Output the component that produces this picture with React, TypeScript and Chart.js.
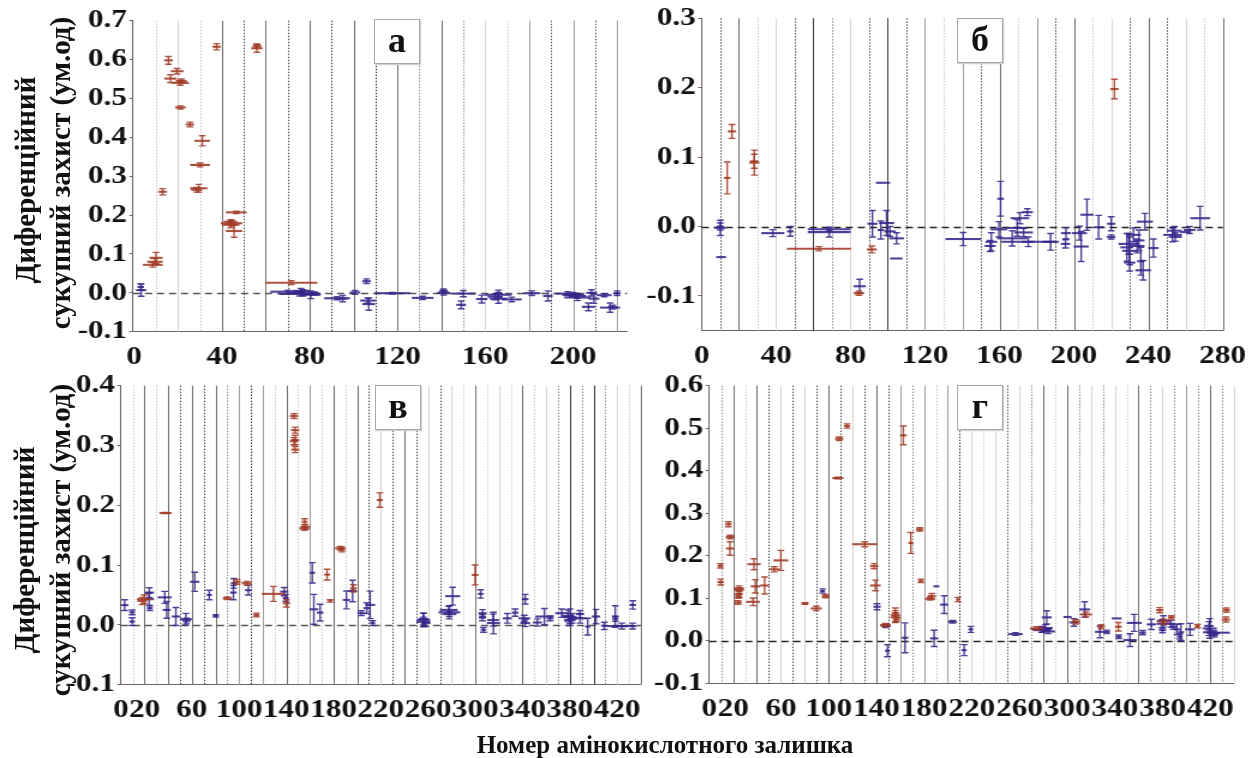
import React, { useEffect, useRef } from "react";
import Chart from "chart.js/auto";

// ---------------- data ----------------
// each mark: [x start, x end, value, error]
const aRed = [
  [4, 13, 0.072, 0.006], [6, 13, 0.08, 0.008], [7, 13, 0.09, 0.014], [11, 15, 0.26, 0.008],
  [13.7, 17.6, 0.598, 0.01], [13.7, 19.4, 0.551, 0.01], [16.7, 22.5, 0.57, 0.007], [17, 25, 0.54, 0.006],
  [19, 24, 0.545, 0.005], [18.7, 23.5, 0.477, 0.004], [23.5, 27.3, 0.433, 0.006], [27.5, 34.6, 0.391, 0.013],
  [25.5, 34.6, 0.329, 0.005], [25.5, 33.4, 0.269, 0.01], [26, 31, 0.265, 0.006], [35.7, 39.5, 0.633, 0.008],
  [53.3, 58.5, 0.629, 0.01], [54, 58, 0.635, 0.005], [41.8, 51.3, 0.207, 0.003], [39.5, 49.3, 0.179, 0.007],
  [40, 48, 0.175, 0.008], [41, 47, 0.183, 0.005], [41.8, 49.3, 0.159, 0.016], [59.7, 83.5, 0.026, 0.005],
];
const aBlue = [
  [0.9, 5.5, 0.007, 0.016], [1.5, 4.5, 0.015, 0.008], [62, 78, 0.003, 0.004], [66, 85, -0.003, 0.005],
  [70, 84, 0.0, 0.008], [72, 80, 0.005, 0.006], [76, 85, -0.005, 0.01], [80, 84, -0.002, 0.004],
  [86.6, 98.4, -0.014, 0.004], [93, 97, -0.015, 0.008], [98.4, 103, 0.001, 0.005], [104, 107.8, 0.03, 0.006],
  [104, 109.8, -0.029, 0.016], [103, 110, -0.02, 0.006], [109.8, 125.7, -0.001, 0.002], [126.5, 136.4, -0.013, 0.004],
  [138, 144, 0.0, 0.006], [139, 143, 0.004, 0.006], [144.7, 155.3, -0.002, 0.008], [146.8, 151.3, -0.031, 0.01],
  [155.8, 161, -0.016, 0.01], [160, 172, -0.005, 0.006], [161, 168, -0.01, 0.008], [162, 170, -0.015, 0.012],
  [164, 168, -0.003, 0.01], [167.5, 176.6, -0.017, 0.006], [177.4, 185, -0.001, 0.006], [186.4, 190.7, -0.008, 0.013],
  [192, 203, -0.002, 0.005], [195, 205, -0.005, 0.006], [196, 208, -0.012, 0.008], [198, 206, -0.008, 0.006],
  [204, 210, -0.036, 0.01], [207, 212, -0.015, 0.012], [206, 210.8, 0.0, 0.008], [210.8, 217.6, -0.006, 0.004],
  [212.3, 221.4, -0.038, 0.012], [216, 220, -0.037, 0.005], [218.4, 221.7, -0.001, 0.006],
];
const bRed = [
  [11.9, 15.5, 0.07, 0.023], [14, 18.5, 0.137, 0.01], [25.6, 31, 0.092, 0.018], [26, 30.5, 0.094, 0.01],
  [45.8, 80.2, -0.032, 0.003], [81.6, 87.3, -0.096, 0.003], [88.7, 94.1, -0.033, 0.005], [219.6, 224, 0.198, 0.014],
];
const bBlue = [
  [7, 13, -0.002, 0.011], [8, 12, 0.0, 0.005], [7.8, 13.1, -0.044, 0], [32, 44.4, -0.0095, 0.005],
  [45.8, 49.4, -0.007, 0.007], [57, 80, -0.004, 0.002], [57, 80, -0.008, 0.007], [81.6, 88.2, -0.086, 0.01],
  [89, 94.5, 0.004, 0.019], [94.5, 98, -0.005, 0.013], [93.6, 101.2, 0.063, 0], [95.3, 103.4, 0.005, 0.018],
  [98, 104.3, -0.007, 0.007], [100.7, 108.7, -0.017, 0.008], [101.2, 107.9, -0.046, 0], [131, 150, -0.018, 0.0095],
  [152.5, 158.8, -0.022, 0.013], [152, 158, -0.028, 0.008], [155.2, 164.2, -0.004, 0.011], [158.8, 162.4, 0.04, 0.025],
  [158.8, 174.9, -0.017, 0.011], [161, 190, -0.022, 0], [172, 179, -0.022, 0.007], [183, 192, -0.022, 0.012],
  [164.2, 174.9, -0.002, 0.012], [166, 176, 0.012, 0.008], [172, 178, 0.0207, 0.005], [168, 178, -0.0085, 0.006],
  [193.1, 198.5, -0.0095, 0.008], [193, 198, -0.025, 0.006], [203.5, 210.6, 0.017, 0.0225], [199.9, 208, -0.0288, 0.0216],
  [199, 207, -0.0095, 0.01], [210.6, 216, -0.001, 0.017], [217.8, 222.3, 0.004, 0.01], [217.8, 222.3, -0.015, 0.003],
  [224, 235, -0.025, 0.015], [225, 232, -0.03, 0.02], [226, 234, -0.035, 0.02], [227, 233, -0.052, 0.012],
  [228, 236, -0.012, 0.01], [230, 238, -0.028, 0.01], [232, 238, -0.02, 0.015], [234, 238, -0.05, 0.02],
  [233, 241.4, -0.063, 0.014], [233.9, 242.5, 0.007, 0.012], [240, 245.5, -0.031, 0.013], [248, 258, -0.012, 0.01],
  [250, 258, -0.006, 0.006], [251, 258, -0.015, 0.006], [259, 265.3, -0.005, 0.005], [262.5, 273.2, 0.012, 0.017],
  [257, 263, -0.008, 0],
];
const vRed = [
  [13.4, 26.1, 0.043, 0.007], [14, 22, 0.04, 0.006], [32.5, 43, 0.187, 0.001], [86.2, 93.8, 0.0445, 0.002],
  [95.2, 101.4, 0.072, 0.004], [102.3, 110.8, 0.0696, 0.003], [112, 117.2, 0.0167, 0.003], [119.2, 139, 0.0518, 0.0125],
  [137, 143.2, 0.036, 0.006], [143, 150, 0.349, 0.004], [144, 151, 0.3255, 0.005], [144, 151, 0.309, 0.008],
  [143, 150, 0.307, 0.006], [144, 151, 0.293, 0.005], [151, 159.5, 0.161, 0.003], [153, 158, 0.1725, 0.005],
  [152, 160, 0.164, 0.004], [172, 177, 0.084, 0.009], [175.6, 178.5, 0.04, 0.002], [181.3, 189.8, 0.128, 0.003],
  [184, 190, 0.126, 0.004], [194, 199.7, 0.061, 0.006], [216.6, 221.7, 0.2087, 0.012], [297, 302.6, 0.0835, 0.0167],
];
const vBlue = [
  [0, 6.3, 0.033, 0.009], [7.1, 11.9, 0.0055, 0.0065], [7, 12, 0.021, 0.004], [19.6, 28, 0.043, 0.01],
  [20, 28, 0.054, 0.008], [22, 27, 0.028, 0.004], [31.2, 43, 0.046, 0.01], [35.4, 42.2, 0.025, 0.014],
  [43, 50, 0.014, 0.015], [50, 60, 0.0095, 0.0097], [52, 59, 0.007, 0.004], [58.5, 66.4, 0.072, 0.016],
  [72.6, 76.9, 0.05, 0.008], [78.2, 82.5, 0.015, 0.002], [92.4, 98, 0.054, 0.012], [93, 98, 0.0695, 0.008],
  [105, 110.8, 0.058, 0.008], [134.7, 141.7, 0.0556, 0.007], [137, 142, 0.045, 0.006], [159.5, 164.4, 0.087, 0.017],
  [159.5, 167.1, 0.026, 0.025], [165.8, 171.4, 0.0205, 0.014], [187.8, 194, 0.0417, 0.015], [192.5, 199.7, 0.0567, 0.018],
  [200.2, 206.7, 0.0195, 0.004], [205.3, 210.9, 0.028, 0.009], [206.7, 215.2, 0.0334, 0.023], [210.9, 215.2, 0.003, 0.004],
  [250.5, 261.7, 0.0083, 0.011], [250, 262, 0.005, 0.008], [252, 260, 0.01, 0.01], [254, 262, 0.003, 0.006],
  [268.8, 287.1, 0.021, 0.011], [270, 285, 0.025, 0.006], [272, 284, 0.018, 0.004], [274.4, 287.1, 0.048, 0.015],
  [302.1, 306.9, 0.0518, 0.007], [302.6, 309.7, 0.0195, 0.006], [303, 309, 0.012, 0.005], [304.6, 309.1, -0.0083, 0.004],
  [309.7, 321, 0.003, 0.018], [310, 320, 0.008, 0.01], [323.3, 330.9, 0.011, 0.008], [330.9, 336.5, 0.0205, 0.006],
  [336.5, 346.4, 0.011, 0.005], [339.3, 345, 0.043, 0.008], [338, 346.4, 0.003, 0.006], [348.7, 356.4, 0.004, 0.006],
  [350.7, 366.2, 0.014, 0.0135], [360.5, 366.2, 0.011, 0.004], [367.6, 378.8, 0.0195, 0.007], [374.6, 385.9, 0.0128, 0.014],
  [373, 384, 0.015, 0.01], [375, 385, 0.008, 0.006], [378, 386, 0.011, 0.008], [383, 394.4, 0.011, 0.008],
  [385, 392, 0.018, 0.006], [393, 397.2, -0.0028, 0.014], [398.6, 405.7, 0.014, 0.012], [407.1, 411.3, -0.0017, 0.006],
  [411.3, 429.6, -0.002, 0], [420, 428, -0.002, 0.005], [415.6, 421.2, 0.014, 0.018], [416, 421, 0.01, 0.004],
  [429.6, 436.7, -0.002, 0.005], [430.5, 436.1, 0.0334, 0.007],
];
const gRed = [
  [7, 11.7, 0.176, 0.005], [6.7, 12.3, 0.138, 0.007], [13.2, 18.8, 0.274, 0.006], [13.8, 21, 0.244, 0.004],
  [14, 20.7, 0.217, 0.016], [20.7, 29.1, 0.123, 0.006], [21, 29, 0.12, 0.005], [22, 28, 0.11, 0.008],
  [21.6, 27.2, 0.105, 0.005], [21, 27.2, 0.09, 0.004], [30.8, 42.5, 0.0916, 0.009], [31.9, 43.1, 0.18, 0.013],
  [34.7, 42.5, 0.128, 0.0157], [42.5, 50.3, 0.13, 0.02], [50.3, 58.7, 0.168, 0.006], [53.7, 66.3, 0.189, 0.0235],
  [77.5, 83, 0.0877, 0.002], [85, 94.3, 0.076, 0.005], [94.3, 100.6, 0.105, 0.004], [103.1, 112.4, 0.3826, 0.002],
  [105.4, 112.4, 0.475, 0.004], [113, 118, 0.505, 0.005], [119.7, 140.9, 0.227, 0.006], [134.8, 141.7, 0.1755, 0.006],
  [134.8, 143.7, 0.13, 0.0125], [143.1, 152.1, 0.0368, 0.004], [152, 160, 0.055, 0.01], [153, 159, 0.065, 0.006],
  [154, 160, 0.05, 0.005], [152.1, 159.9, 0.06, 0.017], [159.9, 165.5, 0.483, 0.022], [166.9, 171.1, 0.23, 0.0246],
  [173.3, 179.5, 0.262, 0.004], [175.3, 179.5, 0.141, 0.004], [180.9, 189.3, 0.0986, 0.003], [183, 190, 0.105, 0.006],
  [206.9, 210.2, 0.097, 0.005], [268.9, 280.1, 0.029, 0.004], [303.9, 310.9, 0.0446, 0.005], [310.9, 320.7, 0.062, 0.006],
  [325.4, 331.8, 0.033, 0.005], [340.2, 345.8, 0.033, 0.01], [374.6, 380.7, 0.072, 0.006], [376, 386, 0.045, 0.006],
  [384.6, 390.2, 0.055, 0.004], [407.3, 411.5, 0.0345, 0.004], [430.5, 436.6, 0.072, 0.005], [429.7, 436.6, 0.05, 0.006],
];
const gBlue = [
  [92.8, 97, 0.117, 0.005], [137.5, 143.7, 0.08, 0.007], [144, 152, 0.035, 0.004], [147.3, 151.5, -0.0235, 0.014],
  [161.3, 166.9, 0.007, 0.035], [185.1, 192, 0.0056, 0.019], [187.9, 192.9, 0.128, 0], [193.5, 200.4, 0.085, 0.021],
  [200.4, 207.5, 0.0446, 0.003], [211.6, 215.8, -0.022, 0.013], [217.2, 221.4, 0.0268, 0.007], [250.7, 262.8, 0.0157, 0.003],
  [270.4, 287.1, 0.0268, 0.007], [272, 286, 0.025, 0.005], [276, 288, 0.03, 0.008], [278, 290, 0.022, 0.005],
  [278.7, 287.1, 0.055, 0.0157], [296.9, 303.9, 0.056, 0], [301.9, 309.4, 0.043, 0.009], [310.3, 319.2, 0.0737, 0.018],
  [323.4, 331.8, 0.021, 0.014], [330.4, 336, 0.021, 0.004], [337.4, 345.8, 0.0526, 0], [340.8, 345.8, 0.0094, 0.004],
  [347.2, 358.4, 0.0016, 0.015], [350, 362.6, 0.042, 0.02], [360.6, 366.2, 0.019, 0.005], [366.8, 374.6, 0.0385, 0.012],
  [375.2, 386.3, 0.047, 0.012], [375, 385, 0.04, 0.01], [377, 383, 0.025, 0.006], [384, 390, 0.04, 0.008],
  [386, 392, 0.033, 0.006], [389.3, 394.9, 0.0268, 0.012], [392, 397, 0.01, 0.006], [393, 398, 0.02, 0.02],
  [398.9, 407.3, 0.0268, 0.014], [413.7, 425.5, 0.029, 0.023], [414, 424, 0.02, 0.008], [415, 423, 0.035, 0.01],
  [418, 428, 0.018, 0.006], [417.1, 436.6, 0.019, 0], [420, 427, 0.015, 0.006],
];

// tick labels
const xTicksA = [0, 40, 80, 120, 160, 200];
const xTicksB = [0, 40, 80, 120, 160, 200, 240, 280];
const xTicksLow = [0, 20, 60, 100, 140, 180, 220, 260, 300, 340, 380, 420];
const yTicksA = [-0.1, 0, 0.1, 0.2, 0.3, 0.4, 0.5, 0.6, 0.7];
const yTicksB = [-0.1, 0, 0.1, 0.2, 0.3];
const yTicksV = [-0.1, 0, 0.1, 0.2, 0.3, 0.4];
const yTicksG = [-0.1, 0, 0.1, 0.2, 0.3, 0.4, 0.5, 0.6];

// segment boundaries (residue numbers)
const segA = [10, 20, 30, 40, 50, 60, 70, 80, 90, 100, 110, 120, 130, 140, 150, 160, 170, 180, 190, 200, 210, 220];
const segB = [10, 20, 30, 40, 50, 60, 70, 80, 90, 100, 110, 120, 130, 140, 150, 160, 170, 180, 190, 200, 210, 220, 230, 240, 250, 260, 270, 280];
const segLow = [10, 20, 30, 40, 50, 60, 70, 80, 90, 100, 110, 120, 130, 140, 150, 160, 170, 180, 190, 200, 210, 220,
  230, 240, 250, 260, 270, 280, 290, 300, 310, 320, 330, 340, 350, 360, 370, 380, 390, 400, 410, 420, 430, 440];

// ---------------- styles ----------------
const toneA = "llldddddkdkdmdmllmdmdm";
const toneB = "ddlldkmldkdmlmddlmddlldddlld";
const toneV = "ldldddddmmkmldlmldlddldddldlldllldllmkmkmlld";
const toneG = "mdlddldldddldddmmmlmkllldlmdldmlmlldmlmmmdml";
const SOLID: Record<string, string> = { l: "#dcd3ce", m: "#a59c98", d: "#756c68", k: "#3a3a3a" };
const DOT: Record<string, string> = { l: "#c6c6c6", m: "#8c8c8c", d: "#4e4e4e", k: "#2e2e2e" };
const RED = "rgba(162,58,36,0.88)";
const BLUE = "rgba(56,36,138,0.88)";
const AXIS = "#6e625b";
const S = 1.2; // horizontal stretch of the original figure
const FONT = "'Liberation Serif', 'Times New Roman', serif";

type Cfg = {
  left: number; top: number; width: number; height: number;
  area: { l: number; r: number; t: number; b: number };
  xMin: number; xMax: number; yMin: number; yMax: number;
  xTicks: number[]; yTicks: number[]; seg: number[]; tone: string;
  red: number[][]; blue: number[][]; zero: string;
};

const panels: Cfg[] = [
  { left: 0, top: 0, width: 528, height: 368, area: { l: 133, r: 627, t: 20.7, b: 331.7 },
    xMin: -0.5, xMax: 224.6, yMin: -0.1, yMax: 0.7, xTicks: xTicksA, yTicks: yTicksA, seg: segA, tone: toneA,
    red: aRed, blue: aBlue, zero: "#555" },
  { left: 640, top: 0, width: 508, height: 368, area: { l: 701.7, r: 1222.7, t: 18.2, b: 330.7 },
    xMin: 0, xMax: 280, yMin: -0.15, yMax: 0.3, xTicks: xTicksB, yTicks: yTicksB, seg: segB, tone: toneB,
    red: bRed, blue: bBlue, zero: "#222" },
  { left: 0, top: 368, width: 536, height: 390, area: { l: 120.9, r: 640.7, t: 385.3, b: 684.7 },
    xMin: 0, xMax: 440, yMin: -0.1, yMax: 0.4, xTicks: xTicksLow, yTicks: yTicksV, seg: segLow, tone: toneV,
    red: vRed, blue: vBlue, zero: "#555" },
  { left: 640, top: 368, width: 508, height: 390, area: { l: 709.3, r: 1234, t: 385, b: 683.3 },
    xMin: 0, xMax: 440, yMin: -0.1, yMax: 0.6, xTicks: xTicksLow, yTicks: yTicksG, seg: segLow, tone: toneG,
    red: gRed, blue: gBlue, zero: "#222" },
];

function toPoints(arr: number[][]) {
  return arr.map((m) => ({ x: (m[0] + m[1]) / 2, y: m[2], x0: m[0], x1: m[1], e: m[3] }));
}

function makePlugin(cfg: Cfg) {
  return {
    id: "hdxMarks",
    beforeDatasetsDraw(chart: any) {
      const { ctx, chartArea: a, scales } = chart;
      const x = scales.x, y = scales.y;
      ctx.save();
      cfg.seg.forEach((v, i) => {
        const px = Math.round(x.getPixelForValue(v)) + 0.5;
        const t = cfg.tone[i] || "m";
        const dotted = Math.round(v / 10) % 2 === 1;
        ctx.beginPath();
        ctx.lineWidth = 1;
        ctx.strokeStyle = dotted ? DOT[t] : SOLID[t];
        ctx.setLineDash(dotted ? [1.5, 1.5] : []);
        ctx.moveTo(px, a.top);
        ctx.lineTo(px, a.bottom);
        ctx.stroke();
      });
      const py = Math.round(y.getPixelForValue(0)) + 0.5;
      ctx.setLineDash([6, 4]);
      ctx.strokeStyle = cfg.zero;
      ctx.lineWidth = 1.5;
      ctx.beginPath();
      ctx.moveTo(a.left, py);
      ctx.lineTo(a.right, py);
      ctx.stroke();
      ctx.restore();
    },
    afterDatasetsDraw(chart: any) {
      const { ctx, scales } = chart;
      const x = scales.x, y = scales.y;
      ctx.save();
      ctx.setLineDash([]);
      chart.data.datasets.forEach((ds: any) => {
        ctx.strokeStyle = ds.borderColor;
        ds.data.forEach((p: any) => {
          const x0 = x.getPixelForValue(p.x0), x1 = x.getPixelForValue(p.x1);
          const xc = x.getPixelForValue(p.x), yc = y.getPixelForValue(p.y);
          ctx.lineWidth = 2.1;
          ctx.beginPath();
          ctx.moveTo(x0, yc);
          ctx.lineTo(x1, yc);
          ctx.stroke();
          if (p.e > 0) {
            const yt = y.getPixelForValue(p.y + p.e), yb = y.getPixelForValue(p.y - p.e);
            const c = 2.8;
            ctx.lineWidth = 1.4;
            ctx.beginPath();
            ctx.moveTo(xc, yt); ctx.lineTo(xc, yb);
            ctx.moveTo(xc - c, yt); ctx.lineTo(xc + c, yt);
            ctx.moveTo(xc - c, yb); ctx.lineTo(xc + c, yb);
            ctx.stroke();
          }
        });
      });
      ctx.restore();
    },
  };
}

function Panel({ cfg }: { cfg: Cfg }) {
  const ref = useRef<HTMLCanvasElement>(null);
  useEffect(() => {
    const li = (cfg.area.l - cfg.left) / S;
    const ri = (cfg.area.r - cfg.left) / S;
    const padTop = cfg.area.t - cfg.top;
    const xH = cfg.height - (cfg.area.b - cfg.top);
    const tickFont = { family: FONT, size: 26, weight: "bold" as const };
    const chart = new Chart(ref.current as HTMLCanvasElement, {
      type: "scatter",
      data: {
        datasets: [
          { label: "blue", data: toPoints(cfg.blue), borderColor: BLUE, backgroundColor: BLUE, pointRadius: 0 },
          { label: "red", data: toPoints(cfg.red), borderColor: RED, backgroundColor: RED, pointRadius: 0 },
        ],
      },
      options: {
        animation: false,
        responsive: false,
        events: [],
        layout: { padding: { left: 0, top: padTop, right: cfg.width - ri, bottom: 0 } },
        plugins: { legend: { display: false }, tooltip: { enabled: false } },
        scales: {
          x: {
            type: "linear",
            min: cfg.xMin,
            max: cfg.xMax,
            afterBuildTicks: (axis: any) => { axis.ticks = cfg.xTicks.map((v) => ({ value: v })); },
            afterFit: (axis: any) => { axis.height = xH; },
            grid: { display: false },
            border: { display: true, color: AXIS, width: 1 },
            ticks: { autoSkip: false, maxRotation: 0, minRotation: 0, padding: 2, color: "#111", font: tickFont,
              callback: (v: any) => String(v) },
          },
          y: {
            type: "linear",
            min: cfg.yMin,
            max: cfg.yMax,
            afterBuildTicks: (axis: any) => { axis.ticks = cfg.yTicks.map((v) => ({ value: v })); },
            afterFit: (axis: any) => { axis.width = li; },
            grid: { drawOnChartArea: false, drawTicks: true, tickLength: 3, color: AXIS },
            border: { display: true, color: AXIS, width: 1 },
            ticks: { padding: 2, color: "#111", font: tickFont,
              callback: (v: any) => (Math.abs(Number(v)) < 1e-9 ? "0.0" : Number(v).toFixed(1)) },
          },
        },
      },
      plugins: [makePlugin(cfg)],
    } as any);
    return () => chart.destroy();
  }, [cfg]);
  return (
    <div style={{ position: "absolute", left: cfg.left, top: cfg.top, width: cfg.width, height: cfg.height,
      transform: `scaleX(${S})`, transformOrigin: "0 0" }}>
      <canvas ref={ref} width={cfg.width} height={cfg.height} style={{ width: cfg.width, height: cfg.height, display: "block" }} />
    </div>
  );
}

const labelStyle = (l: number, t: number): React.CSSProperties => ({
  position: "absolute", left: l, top: t, width: 46, height: 45, background: "#fff",
  border: "1px solid #a8a8a8", boxShadow: "1px 1px 1px #d0d0d0", boxSizing: "border-box",
  font: `bold 36px ${FONT}`, color: "#111", textAlign: "center", lineHeight: "40px", zIndex: 3,
});

const vTitle = (cx: number, cy: number): React.CSSProperties => ({
  position: "absolute", left: cx, top: cy, transform: "translate(-50%, -50%) rotate(-90deg)",
  whiteSpace: "nowrap", font: `bold 29px ${FONT}`, color: "#111", zIndex: 3, lineHeight: "30px",
});

export default function App() {
  return (
    <div style={{ position: "fixed", left: 0, top: 0, width: 1250, height: 758, background: "#fff", overflow: "hidden" }}>
      {panels.map((p, i) => <Panel key={i} cfg={p} />)}
      <div style={labelStyle(374, 19)}>а</div>
      <div style={labelStyle(957, 18)}>б</div>
      <div style={labelStyle(375, 385)}>в</div>
      <div style={labelStyle(957, 385)}>г</div>
      <div style={vTitle(25, 180)}>Диференційний</div>
      <div style={vTitle(60, 173)}>сукупний захист (ум.од)</div>
      <div style={vTitle(24, 550)}>Диференційний</div>
      <div style={vTitle(60, 540)}>сукупний захист (ум.од)</div>
      <div style={{ position: "absolute", left: 665, top: 745, transform: "translate(-50%, -50%)", whiteSpace: "nowrap",
        font: `bold 25px ${FONT}`, color: "#111", zIndex: 3 }}>Номер амінокислотного залишка</div>
    </div>
  );
}
